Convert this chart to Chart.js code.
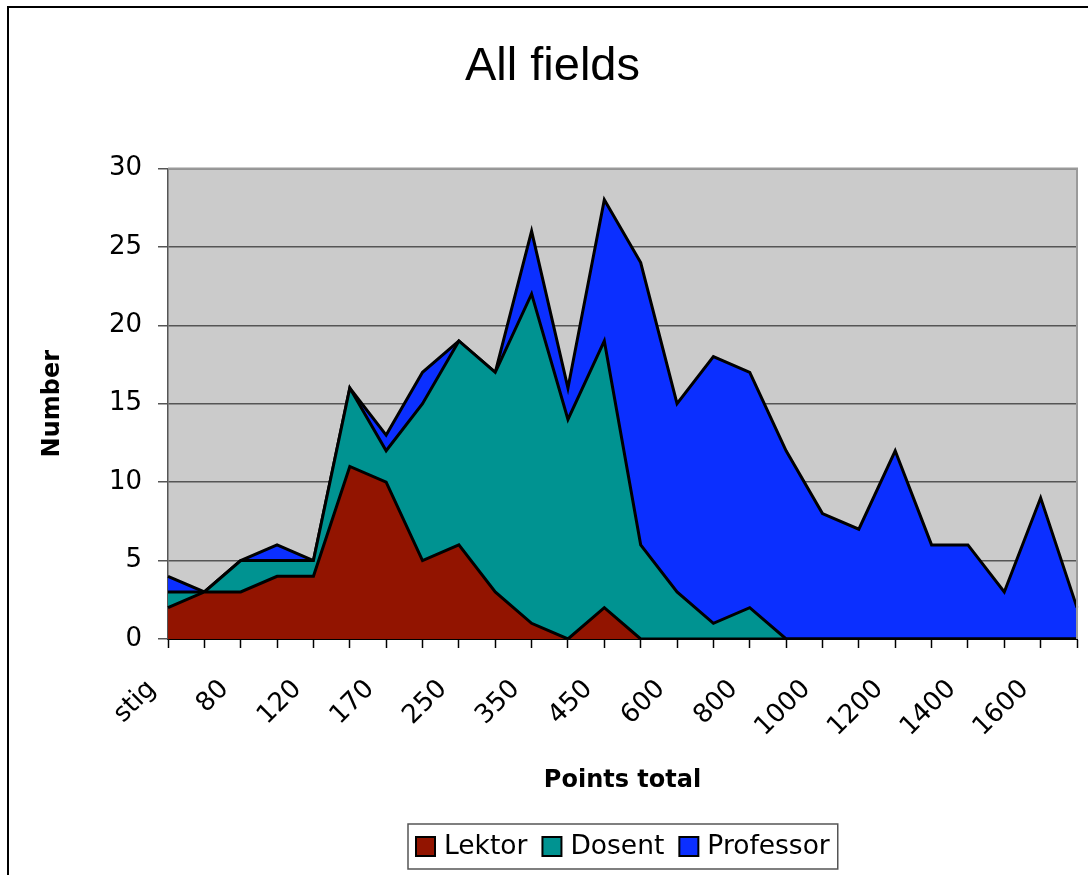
<!DOCTYPE html>
<html>
<head>
<meta charset="utf-8">
<title>All fields</title>
<script src="https://cdn.jsdelivr.net/npm/chart.js@4"></script>
<style>
  body { margin: 0; background: #fff; }
  canvas { display: block; }
</style>
</head>
<body>
<canvas id="area-chart" width="1088" height="875"></canvas>
<script>
// categories on the x axis (only every other one is labelled in the original)
const categories = ['stig', '60', '80', '100', '120', '150', '170', '200', '250', '300', '350', '400', '450',
                    '500', '600', '700', '800', '900', '1000', '1100', '1200', '1300', '1400', '1500', '1600', '1800'];
const lektor    = [2, 3, 3, 4, 4, 11, 10, 5, 6, 3, 1, 0, 2, 0, 0, 0, 0, 0, 0, 0, 0, 0, 0, 0, 0, 0];
const dosent    = [1, 0, 2, 1, 1, 5, 2, 10, 13, 14, 21, 14, 17, 6, 3, 1, 2, 0, 0, 0, 0, 0, 0, 0, 0, 0];
const professor = [1, 0, 0, 1, 0, 0, 1, 2, 0, 0, 4, 2, 9, 18, 12, 17, 15, 12, 8, 7, 12, 6, 6, 3, 9, 2];
const yMax = 30;
const yStep = 5;

const tickFont = { family: '"DejaVu Sans", sans-serif', size: 26 };
const axisTitleFont = { family: '"DejaVu Sans", sans-serif', size: 24, weight: 'bold' };

// grey plot area, plot border and the outer frame
const plotBackground = {
    id: 'plotBackground',
    beforeDraw(chart) {
        const { ctx, chartArea: a } = chart;
        ctx.save();
        ctx.fillStyle = '#fff';
        ctx.fillRect(0, 0, chart.width, chart.height);
        ctx.fillStyle = '#cbcbcb';
        ctx.fillRect(a.left, a.top, a.right - a.left, a.bottom - a.top);
        ctx.restore();
    },
    afterDatasetsDraw(chart) {
        const { ctx, chartArea: a } = chart;
        ctx.save();
        ctx.strokeStyle = '#9a9a9a';
        ctx.lineWidth = 2;
        ctx.beginPath();
        ctx.moveTo(a.left, a.top);
        ctx.lineTo(a.right, a.top);
        ctx.lineTo(a.right, a.bottom);
        ctx.stroke();
        ctx.restore();
    },
    afterDraw(chart) {
        const ctx = chart.ctx;
        ctx.save();
        ctx.strokeStyle = '#000';
        ctx.lineWidth = 2;
        ctx.strokeRect(8, 7, 2000, 2000);
        ctx.restore();
    }
};

// boxed legend centred under the plot area
const legendBox = {
    id: 'legendBox',
    afterDraw(chart) {
        const ctx = chart.ctx;
        ctx.save();
        ctx.font = '26.5px "DejaVu Sans", sans-serif';
        const sq = 19, gap = 9, space = 15, pad = 8, boxH = 45;
        const items = chart.data.datasets.map(ds => ({
            text: ds.label,
            color: ds.backgroundColor,
            w: ctx.measureText(ds.label).width
        }));
        const inner = items.reduce((s, it) => s + sq + gap + it.w, 0) + space * (items.length - 1);
        const boxW = inner + pad * 2;
        const cx = (chart.chartArea.left + chart.chartArea.right) / 2;
        const bx = Math.round(cx - boxW / 2), by = 824;
        ctx.fillStyle = '#fff';
        ctx.fillRect(bx, by, boxW, boxH);
        ctx.strokeStyle = '#555';
        ctx.lineWidth = 1.5;
        ctx.strokeRect(bx, by, boxW, boxH);
        const cy = by + boxH / 2;
        let x = bx + pad;
        items.forEach(it => {
            ctx.fillStyle = it.color;
            ctx.fillRect(x, cy - sq / 2, sq, sq);
            ctx.strokeStyle = '#000';
            ctx.lineWidth = 2;
            ctx.strokeRect(x, cy - sq / 2, sq, sq);
            x += sq + gap;
            ctx.fillStyle = '#000';
            ctx.textBaseline = 'middle';
            ctx.fillText(it.text, x, cy + 1);
            x += it.w + space;
        });
        ctx.restore();
    }
};

const ctx = document.getElementById('area-chart').getContext('2d');
new Chart(ctx, {
    type: 'line',
    data: {
        labels: categories,
        datasets: [
            { label: 'Lektor', data: lektor, backgroundColor: '#921400', fill: 'origin' },
            { label: 'Dosent', data: dosent, backgroundColor: '#009391', fill: '-1' },
            { label: 'Professor', data: professor, backgroundColor: '#0b2fff', fill: '-1' }
        ]
    },
    plugins: [plotBackground, legendBox],
    options: {
        responsive: false,
        animation: false,
        layout: { padding: { left: 28, right: 11, top: 0, bottom: 0 } },
        elements: {
            line: { tension: 0, borderWidth: 3, borderColor: '#000', borderJoinStyle: 'miter' },
            point: { radius: 0, hoverRadius: 0 }
        },
        plugins: {
            legend: { display: false },
            tooltip: { enabled: false },
            title: {
                display: true,
                text: 'All fields',
                color: '#000',
                font: { family: '"Liberation Sans", Arial, sans-serif', size: 47, weight: 'normal' },
                padding: { top: 39, bottom: 73 }
            }
        },
        scales: {
            x: {
                offset: false,
                grid: { display: true, drawOnChartArea: false, drawTicks: true, tickLength: 9, tickColor: '#000', tickWidth: 1.5 },
                border: { display: true, color: '#000', width: 2 },
                ticks: {
                    autoSkip: false,
                    maxRotation: 45,
                    minRotation: 45,
                    padding: 26,
                    labelOffset: -16,
                    color: '#000',
                    font: tickFont,
                    callback: (v, i) => (i % 2 === 0 ? categories[i] : '')
                },
                title: {
                    display: true,
                    text: 'Points total',
                    color: '#000',
                    font: axisTitleFont,
                    padding: { top: 0, bottom: 80 }
                },
                afterFit: s => { s.height = 236; s.paddingLeft = 0; s.paddingRight = 0; }
            },
            y: {
                stacked: true,
                min: 0,
                max: yMax,
                ticks: { stepSize: yStep, padding: 16, color: '#000', font: tickFont },
                grid: { color: '#555', lineWidth: 1.5, tickLength: 10, tickColor: '#555' },
                border: { color: '#555', width: 1.5 },
                title: {
                    display: true,
                    text: 'Number',
                    color: '#000',
                    font: axisTitleFont,
                    padding: { top: 10, bottom: 0 }
                },
                afterFit: s => { s.width = 140; }
            }
        }
    }
});
</script>
</body>
</html>
